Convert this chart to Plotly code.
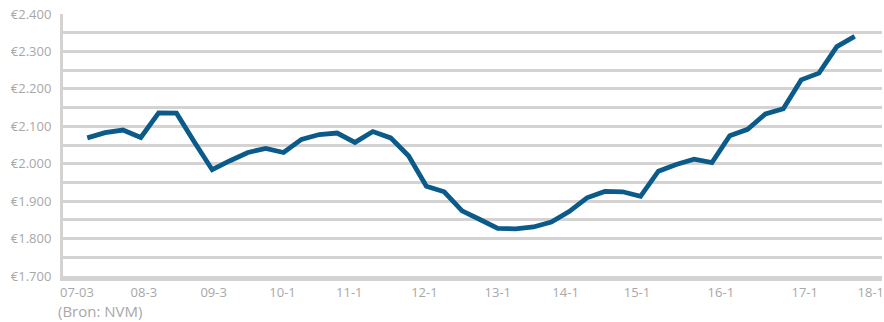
import plotly.graph_objects as go

# Average price series
prices = [2069, 2083, 2090, 2070, 2136, 2135, 2058, 1984, 2008, 2030,
          2041, 2030, 2065, 2078, 2082, 2057, 2086, 2069, 2021, 1940,
          1925, 1874, 1851, 1827, 1826, 1831, 1844, 1872, 1909, 1926,
          1925, 1913, 1980, 1998, 2012, 2003, 2075, 2092, 2133, 2147,
          2224, 2242, 2313, 2340]
periods = list(range(len(prices)))

tick_labels = ["07-03", "08-3", "09-3", "10-1", "11-1", "12-1",
               "13-1", "14-1", "15-1", "16-1", "17-1", "18-1"]
tick_periods = [-0.58, 3.17, 7.08, 10.94, 14.68, 18.89,
                23.0, 26.8, 30.8, 35.5, 40.2, 43.9]

source_text = "(Bron: NVM)"

GRID = "#d5d3d1"
TXT = "#a8a8a8"
LINE = "#0a5a8a"
FONT = "Open Sans"

fig = go.Figure()
fig.add_trace(go.Scatter(
    x=periods, y=prices, mode="lines",
    line=dict(color=LINE, width=4.8),
    hoverinfo="skip", showlegend=False,
))

fig.update_layout(
    width=884, height=322,
    margin=dict(l=63, r=0, t=14, b=46),
    paper_bgcolor="white", plot_bgcolor="white",
    separators=",.",
    font=dict(family=FONT, color=TXT, size=13),
    xaxis=dict(
        range=[-1.36, 44.53],
        tickmode="array", tickvals=tick_periods, ticktext=tick_labels,
        showgrid=False, zeroline=False,
        showline=True, linecolor=GRID, linewidth=5,
        ticks="", ticklabelstandoff=0, ticklabeloverflow="allow",
        tickfont=dict(family=FONT, color=TXT, size=13),
    ),
    yaxis=dict(
        range=[1700, 2400],
        dtick=100, tick0=1700,
        tickprefix="€", tickformat=",d",
        showgrid=True, gridcolor=GRID, gridwidth=3,
        minor=dict(dtick=50, tick0=1700, showgrid=True, gridcolor=GRID, gridwidth=3),
        zeroline=False,
        showline=True, linecolor=GRID, linewidth=3,
        ticks="", ticklabelstandoff=6,
        tickfont=dict(family=FONT, color=TXT, size=13),
    ),
    annotations=[dict(
        text=source_text, xref="paper", yref="paper",
        x=0, y=0, xanchor="left", yanchor="middle",
        xshift=-7, yshift=-35, showarrow=False,
        font=dict(family=FONT, color=TXT, size=15),
    )],
)

fig.write_html("out.html")
